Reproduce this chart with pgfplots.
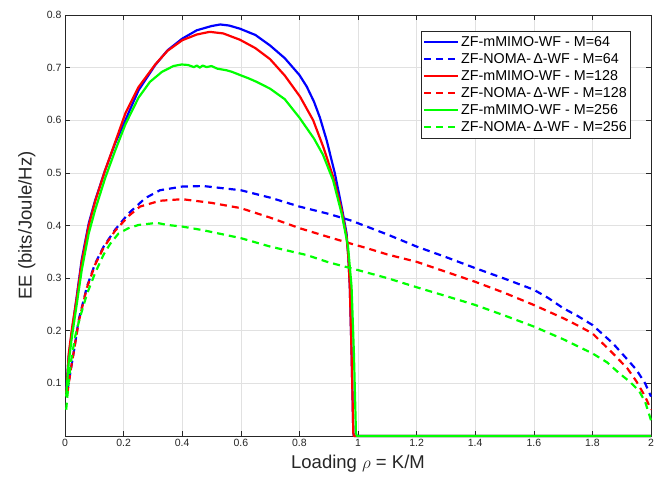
\documentclass[border=0pt]{standalone}
\usepackage{fontspec}
\setmainfont{Liberation Sans}
\usepackage{pgfplots}
\pgfplotsset{compat=1.18}
\definecolor{mblue}{RGB}{0,0,255}
\definecolor{mred}{RGB}{255,0,0}
\definecolor{mgreen}{RGB}{0,255,0}
\definecolor{axgray}{RGB}{38,38,38}
\definecolor{gridgray}{RGB}{225,225,225}
\begin{document}
\begin{tikzpicture}
\begin{axis}[name=ax,
  scale only axis, width=586bp, height=421bp,
  xmin=0, xmax=2, ymin=0, ymax=0.8, clip=false,
  xtick={0,0.2,...,2.01}, ytick={0.1,0.2,...,0.81},
  xticklabels={0,0.2,0.4,0.6,0.8,1,1.2,1.4,1.6,1.8,2},
  yticklabels={0.1,0.2,0.3,0.4,0.5,0.6,0.7,0.8},
  /pgf/number format/assume math mode=true,
  tick label style={font=\fontsize{10.5bp}{12bp}\selectfont, text=axgray},
  grid=major, major grid style={gridgray, line width=0.6pt},
  axis line style={axgray, line width=0.6pt},
  tick style={axgray, line width=0.6pt},
  tick align=inside, major tick length=5bp,
  xtick pos=both, ytick pos=both,
  xlabel={Loading $\rho$ = K/M}, ylabel={EE (bits/Joule/Hz)},
  label style={font=\fontsize{18.5bp}{20bp}\selectfont, text=axgray},
  xlabel style={at={(0.5,0)}, anchor=north, yshift=-16bp},
  ylabel style={at={(0,0.5)}, anchor=south, yshift=26bp},
  legend style={at={(0.966,0.962)}, anchor=north east, draw=axgray, line width=0.6pt,
    font=\fontsize{14.3bp}{16bp}\selectfont, cells={anchor=west}, row sep=1.6bp,
    inner xsep=2bp, inner ysep=3bp},
  legend image code/.code={\draw[#1] (0cm,0cm) -- (1.2cm,0cm);},
  every axis plot/.append style={line width=2.2pt, line join=round},
]
\addplot[mblue] coordinates {
(0.005,0.09) (0.0125,0.15) (0.024,0.20) (0.04,0.265) (0.057,0.335) (0.081,0.404)
(0.103,0.448) (0.137,0.505) (0.171,0.556) (0.206,0.600) (0.251,0.657) (0.308,0.705)
(0.35,0.733) (0.4,0.755) (0.45,0.771) (0.5,0.779) (0.53,0.782) (0.56,0.780)
(0.597,0.774) (0.65,0.762) (0.7,0.742) (0.75,0.718) (0.8,0.686) (0.825,0.664)
(0.85,0.635) (0.87,0.605) (0.893,0.562) (0.921,0.499) (0.944,0.436) (0.961,0.385)
(0.967,0.34) (0.972,0.284) (0.978,0.158) (0.984,0.006) (0.986,0) (2,0)};
\addlegendentry{ZF-mMIMO-WF - M=64}
\addplot[mblue, dash pattern=on 7bp off 5bp] coordinates {
(0.008,0.085) (0.018,0.12) (0.03,0.16) (0.047,0.221) (0.075,0.284) (0.103,0.328)
(0.132,0.36) (0.171,0.392) (0.217,0.423) (0.274,0.452) (0.324,0.467) (0.4,0.474)
(0.472,0.475) (0.6,0.467) (0.7,0.453) (0.8,0.436) (0.9,0.422) (0.973,0.41)
(1.03,0.398) (1.1,0.383) (1.2,0.36) (1.3,0.34) (1.4,0.319) (1.5,0.299)
(1.6,0.278) (1.65,0.262) (1.7,0.243) (1.75,0.228) (1.8,0.211) (1.87,0.176)
(1.92,0.145) (1.95,0.126) (1.98,0.10) (2.0,0.075)};
\addlegendentry{ZF-NOMA-\,Δ-WF - M=64}
\addplot[mred] coordinates {
(0.005,0.082) (0.0125,0.155) (0.024,0.205) (0.04,0.262) (0.057,0.33) (0.081,0.40)
(0.103,0.446) (0.137,0.505) (0.171,0.558) (0.206,0.613) (0.251,0.663) (0.308,0.706)
(0.35,0.732) (0.4,0.752) (0.45,0.763) (0.494,0.768) (0.54,0.765) (0.597,0.753)
(0.65,0.737) (0.7,0.716) (0.75,0.685) (0.802,0.645) (0.847,0.600)
(0.881,0.55) (0.915,0.493) (0.944,0.43) (0.961,0.379) (0.967,0.34) (0.972,0.284)
(0.978,0.158) (0.984,0.006) (0.986,0) (2,0)};
\addlegendentry{ZF-mMIMO-WF - M=128}
\addplot[mred, dash pattern=on 7bp off 5bp] coordinates {
(0.008,0.08) (0.018,0.12) (0.03,0.16) (0.047,0.218) (0.075,0.282) (0.103,0.326)
(0.132,0.358) (0.171,0.39) (0.217,0.418) (0.256,0.436) (0.324,0.447) (0.4,0.45)
(0.5,0.443) (0.6,0.433) (0.7,0.415) (0.8,0.395) (0.9,0.378) (0.973,0.366)
(1.03,0.357) (1.1,0.345) (1.2,0.331) (1.3,0.312) (1.4,0.293) (1.5,0.272)
(1.6,0.249) (1.7,0.224) (1.75,0.21) (1.8,0.195) (1.87,0.157) (1.92,0.128)
(1.95,0.104) (1.98,0.075) (2.0,0.05)};
\addlegendentry{ZF-NOMA-\,Δ-WF - M=128}
\addplot[mgreen] coordinates {
(0.004,0.075) (0.0125,0.14) (0.024,0.19) (0.04,0.25) (0.057,0.315) (0.081,0.385)
(0.103,0.43) (0.137,0.49) (0.171,0.542) (0.206,0.592) (0.251,0.643) (0.29,0.673)
(0.331,0.692) (0.37,0.703) (0.398,0.706) (0.42,0.705) (0.44,0.701) (0.45,0.704)
(0.46,0.700) (0.47,0.704) (0.483,0.701) (0.50,0.703) (0.52,0.698) (0.551,0.695)
(0.57,0.692) (0.597,0.686) (0.625,0.680) (0.654,0.673) (0.7,0.66) (0.75,0.64)
(0.8,0.605) (0.85,0.565) (0.88,0.535) (0.915,0.486)
(0.944,0.423) (0.966,0.36) (0.978,0.284) (0.986,0.158) (0.993,0.006) (0.996,0) (2,0)};
\addlegendentry{ZF-mMIMO-WF - M=256}
\addplot[mgreen, dash pattern=on 7bp off 5bp] coordinates {
(0.004,0.05) (0.012,0.10) (0.02,0.14) (0.035,0.19) (0.051,0.225) (0.075,0.27)
(0.103,0.31) (0.132,0.345) (0.154,0.365) (0.183,0.385) (0.217,0.395) (0.251,0.401)
(0.313,0.405) (0.35,0.401) (0.4,0.398) (0.472,0.391) (0.6,0.376) (0.7,0.36)
(0.824,0.344) (0.9,0.33) (0.995,0.316) (1.1,0.3) (1.21,0.281) (1.3,0.266)
(1.4,0.249) (1.5,0.229) (1.6,0.208) (1.7,0.184) (1.8,0.157) (1.85,0.14)
(1.89,0.12) (1.93,0.102) (1.96,0.085) (1.98,0.065) (2.0,0.03)};
\addlegendentry{ZF-NOMA-\,Δ-WF - M=256}
\end{axis}
\pgfresetboundingbox
\path (ax.south west) ++(-65bp,-47bp) rectangle ++(667bp,483bp);
\end{tikzpicture}
\end{document}
